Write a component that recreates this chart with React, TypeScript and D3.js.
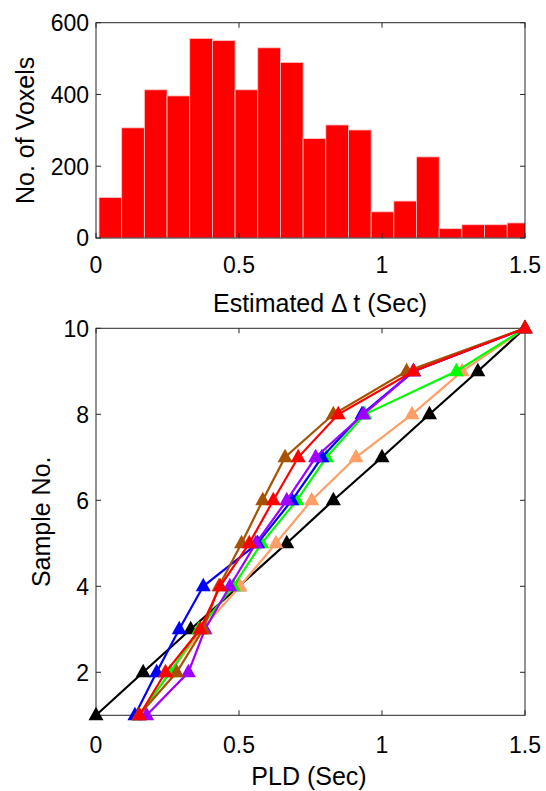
import React from 'react'
import { scaleLinear, line } from 'd3'

// histogram of estimated delta t
const histCounts = [113, 307, 413, 396, 556, 550, 413, 530, 489, 277, 315, 301, 73, 103, 226, 26, 37, 37, 42]
const histBinStart = 0.0105
const histBinWidth = 0.0793
const histXTicks = [0, 0.5, 1, 1.5]
const histYTicks = [0, 200, 400, 600]

// PLD vs sample number, one array per curve
const sampleNo = [1, 2, 3, 4, 5, 6, 7, 8, 9, 10]
const pldBlack = [0, 0.165, 0.331, 0.5, 0.667, 0.83, 1.0, 1.166, 1.335, 1.5]
const pldPeach = [0.15, 0.26, 0.37, 0.503, 0.629, 0.754, 0.909, 1.105, 1.28, 1.5]
const pldGreen = [0.15, 0.259, 0.36, 0.48, 0.579, 0.702, 0.806, 0.94, 1.26, 1.5]
const pldBlue = [0.136, 0.212, 0.291, 0.375, 0.565, 0.685, 0.79, 0.93, 1.11, 1.5]
const pldPurple = [0.177, 0.323, 0.381, 0.468, 0.559, 0.667, 0.768, 0.935, 1.11, 1.5]
const pldBrown = [0.15, 0.282, 0.375, 0.43, 0.509, 0.583, 0.661, 0.83, 1.086, 1.5]
const pldRed = [0.152, 0.243, 0.364, 0.434, 0.536, 0.62, 0.707, 0.847, 1.11, 1.5]
const pldXTicks = [0, 0.5, 1, 1.5]
const pldYTicks = [2, 4, 6, 8, 10]

const curves = [
    { name: 'black', color: '#000000', values: pldBlack },
    { name: 'peach', color: '#ff9f66', values: pldPeach },
    { name: 'green', color: '#00ff00', values: pldGreen },
    { name: 'blue', color: '#0000ff', values: pldBlue },
    { name: 'purple', color: '#a000ff', values: pldPurple },
    { name: 'brown', color: '#a65200', values: pldBrown },
    { name: 'red', color: '#ff0000', values: pldRed },
]

const font = '"Liberation Sans", Arial, Helvetica, sans-serif'
const tickSize = 23
const labelSize = 25
const tickLen = 5

const Box = ({ x0, x1, y0, y1 }) => (
    <rect x={x0} y={y0} width={x1 - x0} height={y1 - y0} fill='none' stroke='#262626' strokeWidth={1} />
)

const App = () => {
    const left = 96
    const right = 525

    // top panel
    const hTop = 22.7
    const hBottom = 238
    const hx = scaleLinear().domain([0, 1.5]).range([left, right])
    const hy = scaleLinear().domain([0, 600]).range([hBottom, hTop])

    // bottom panel
    const pTop = 328.3
    const pBottom = 715.3
    const px = scaleLinear().domain([0, 1.5]).range([left, right])
    const py = scaleLinear().domain([1, 10]).range([pBottom, pTop])

    const lineGen = line<number>()
        .x(d => px(d))
        .y((d, i) => py(sampleNo[i]))

    const tri = 'M0,-8.5L7.5,5L-7.5,5Z'

    return (
        <svg width={546} height={791} style={{ position: 'absolute', left: 0, top: 0, background: '#fff' }}
            fontFamily={font}>
            <defs>
                <clipPath id='histClip'>
                    <rect x={left} y={hTop} width={right - left} height={hBottom - hTop} />
                </clipPath>
            </defs>

            {/* histogram */}
            <g clipPath='url(#histClip)'>
                {histCounts.map((c, i) => {
                    const x0 = hx(histBinStart + i * histBinWidth)
                    const x1 = hx(histBinStart + (i + 1) * histBinWidth)
                    return (
                        <rect key={i} x={x0} y={hy(c)} width={x1 - x0} height={hBottom - hy(c)}
                            fill='#ff0000' stroke='#ffc8c8' strokeWidth={0.8} />
                    )
                })}
            </g>
            <Box x0={left} x1={right} y0={hTop} y1={hBottom} />
            {histXTicks.map(t => (
                <g key={t}>
                    <line x1={hx(t)} x2={hx(t)} y1={hBottom} y2={hBottom - tickLen} stroke='#262626' />
                    <line x1={hx(t)} x2={hx(t)} y1={hTop} y2={hTop + tickLen} stroke='#262626' />
                    <text x={hx(t)} y={273.3} fontSize={tickSize} textAnchor='middle'>{t}</text>
                </g>
            ))}
            {histYTicks.map(t => (
                <g key={t}>
                    <line x1={left} x2={left + tickLen} y1={hy(t)} y2={hy(t)} stroke='#262626' />
                    <line x1={right} x2={right - tickLen} y1={hy(t)} y2={hy(t)} stroke='#262626' />
                    <text x={89} y={hy(t) + 8.3} fontSize={tickSize} textAnchor='end'>{t}</text>
                </g>
            ))}
            <text x={320} y={311.5} fontSize={labelSize} textAnchor='middle'>Estimated Δ t (Sec)</text>
            <text transform={`translate(33.5, ${(hTop + hBottom) / 2}) rotate(-90)`} fontSize={labelSize}
                textAnchor='middle'>No. of Voxels</text>

            {/* PLD curves */}
            <Box x0={left} x1={right} y0={pTop} y1={pBottom} />
            {pldXTicks.map(t => (
                <g key={t}>
                    <line x1={px(t)} x2={px(t)} y1={pBottom} y2={pBottom - tickLen} stroke='#262626' />
                    <line x1={px(t)} x2={px(t)} y1={pTop} y2={pTop + tickLen} stroke='#262626' />
                    <text x={px(t)} y={753.3} fontSize={tickSize} textAnchor='middle'>{t}</text>
                </g>
            ))}
            {pldYTicks.map(t => (
                <g key={t}>
                    <line x1={left} x2={left + tickLen} y1={py(t)} y2={py(t)} stroke='#262626' />
                    <line x1={right} x2={right - tickLen} y1={py(t)} y2={py(t)} stroke='#262626' />
                    <text x={89} y={py(t) + 8.3} fontSize={tickSize} textAnchor='end'>{t}</text>
                </g>
            ))}
            {curves.map(c => (
                <g key={c.name}>
                    <path d={lineGen(c.values) || ''} fill='none' stroke={c.color} strokeWidth={2.2} />
                    {c.values.map((v, i) => (
                        <path key={i} d={tri} transform={`translate(${px(v)}, ${py(sampleNo[i])})`} fill={c.color} />
                    ))}
                </g>
            ))}
            <text x={309} y={784.5} fontSize={labelSize} textAnchor='middle'>PLD (Sec)</text>
            <text transform={`translate(50, ${(pTop + pBottom) / 2}) rotate(-90)`} fontSize={labelSize}
                textAnchor='middle'>Sample No.</text>
        </svg>
    )
}

export default App
